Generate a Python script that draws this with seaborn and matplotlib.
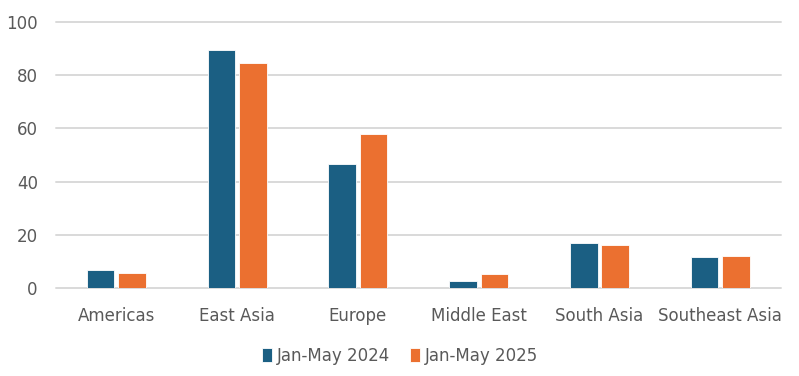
import pandas as pd
import seaborn as sns
import matplotlib.pyplot as plt

regions = ['Americas', 'East Asia', 'Europe', 'Middle East', 'South Asia', 'Southeast Asia']
v2024 = [6.8, 89.5, 46.7, 2.6, 16.9, 11.6]
v2025 = [5.5, 84.6, 57.7, 5.1, 16.0, 12.0]
periods = ['Jan-May 2024', 'Jan-May 2025']
colors = ['#1B5F83', '#EB7030']

df = pd.DataFrame({
    'region': regions * 2,
    'value': v2024 + v2025,
    'period': [periods[0]] * len(regions) + [periods[1]] * len(regions),
})

sns.set_theme(style='white')
plt.rcParams['font.family'] = ['Liberation Sans Narrow', 'DejaVu Sans']
grey = '#595959'

fig = plt.figure(figsize=(7.99, 3.76), dpi=100)
ax = fig.add_axes([0.070, 0.234, 0.907, 0.708])
sns.barplot(data=df, x='region', y='value', hue='period', palette=colors,
            width=0.52, gap=0.12, ax=ax, saturation=1, edgecolor='white', linewidth=0.6)

ax.set_ylim(0, 100)
ax.set_yticks([0, 20, 40, 60, 80, 100])
ax.set_xlim(-0.5, 5.5)
ax.grid(axis='y', color='#D9D9D9', linewidth=1.4)
for gl in ax.get_ygridlines():
    gl.set_clip_on(False)
ax.set_axisbelow(True)
for s in ax.spines.values():
    s.set_visible(False)
ax.set_xlabel('')
ax.set_ylabel('')
ax.tick_params(axis='both', length=0, labelsize=12, colors=grey)
ax.tick_params(axis='y', pad=13)
ax.tick_params(axis='x', pad=14)

handles, labels = ax.get_legend_handles_labels()
ax.legend(handles, labels, loc='center', bbox_to_anchor=(0.475, -0.255), ncol=2,
          frameon=False, fontsize=12, labelcolor=grey, handlelength=0.6,
          handleheight=0.9, handletextpad=0.3, columnspacing=1.2)

fig.savefig('out.png', dpi=100, facecolor='white')
